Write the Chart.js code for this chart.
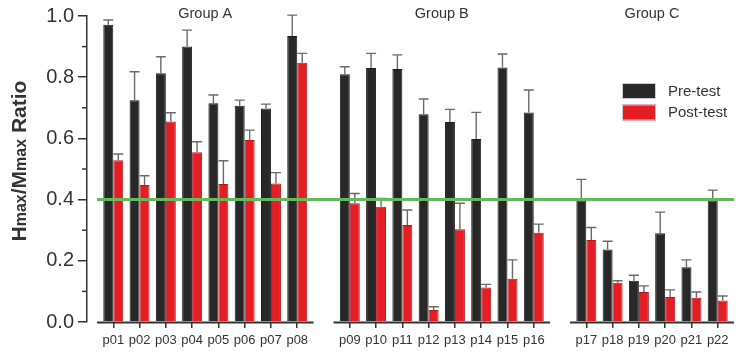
<!DOCTYPE html>
<html>
<head>
<meta charset="utf-8">
<script src="https://cdn.jsdelivr.net/npm/chart.js@4.4.0/dist/chart.umd.min.js"></script>
<style>
  html, body { margin: 0; padding: 0; background: #fff; }
</style>
</head>
<body>
<canvas id="chart" width="749" height="356"></canvas>
<script>
const participants = ['p01','p02','p03','p04','p05','p06','p07','p08',
                      'p09','p10','p11','p12','p13','p14','p15','p16',
                      'p17','p18','p19','p20','p21','p22'];
const groupNames = ['Group A', 'Group B', 'Group C'];
const groupSizes = [8, 8, 6];
const preTest  = [0.971,0.725,0.813,0.900,0.715,0.707,0.698,0.935,
                  0.810,0.830,0.827,0.679,0.654,0.598,0.832,0.685,
                  0.397,0.237,0.135,0.290,0.179,0.397];
const preErr   = [0.016,0.093,0.054,0.054,0.027,0.018,0.014,0.068,
                  0.024,0.048,0.046,0.050,0.041,0.087,0.044,0.073,
                  0.069,0.027,0.018,0.069,0.024,0.034];
const postTest = [0.529,0.448,0.655,0.555,0.451,0.595,0.453,0.847,
                  0.388,0.377,0.317,0.039,0.303,0.113,0.141,0.292,
                  0.268,0.128,0.098,0.082,0.079,0.070];
const postErr  = [0.020,0.030,0.029,0.034,0.076,0.032,0.035,0.031,
                  0.032,0.027,0.049,0.011,0.085,0.010,0.062,0.028,
                  0.041,0.007,0.020,0.023,0.019,0.015];
const cutoff = 0.4;
const yMin = 0, yMax = 1.0, yStep = 0.2;

const FONT = '"Liberation Sans", Arial, Helvetica, sans-serif';
const INK = '#333333';

// slots: empty slot before, between and after the groups
const labels = [''];
const slotIndex = [null];   // slot -> participant index
const groupSlots = [];      // [firstSlot, lastSlot] per group
let p = 0;
groupSizes.forEach(n => {
  const first = labels.length;
  for (let k = 0; k < n; k++) { labels.push(participants[p]); slotIndex.push(p); p++; }
  groupSlots.push([first, labels.length - 1]);
  labels.push(''); slotIndex.push(null);
});

const bySlot = arr => slotIndex.map(i => i === null ? null : arr[i]);

const errorBars = [preErr, postErr];

const decorPlugin = {
  id: 'decor',
  afterDatasetsDraw(chart) {
    const ctx = chart.ctx;
    const x = chart.scales.x, y = chart.scales.y;
    const area = chart.chartArea;
    const step = x.getPixelForValue(1) - x.getPixelForValue(0);
    ctx.save();

    // error bars (upper only)
    chart.data.datasets.forEach((ds, d) => {
      const meta = chart.getDatasetMeta(d);
      meta.data.forEach((bar, s) => {
        const v = ds.data[s];
        if (v === null) return;
        const e = errorBars[d][slotIndex[s]];
        const top = y.getPixelForValue(v + e);
        const half = bar.width / 2;
        ctx.strokeStyle = '#6b6b6b';
        ctx.lineWidth = 1.4;
        ctx.beginPath();
        ctx.moveTo(bar.x, bar.y);
        ctx.lineTo(bar.x, top);
        ctx.moveTo(bar.x - half, top);
        ctx.lineTo(bar.x + half, top);
        ctx.stroke();
      });
    });

    // x axis segments per group
    const segs = groupSlots.map(([a, b]) => [x.getPixelForValue(a) - 0.62 * step, x.getPixelForValue(b) + 0.62 * step]);
    ctx.strokeStyle = INK;
    ctx.lineWidth = 2;
    segs.forEach(([a, b]) => {
      ctx.beginPath();
      ctx.moveTo(a, area.bottom + 0.5);
      ctx.lineTo(b, area.bottom + 0.5);
      ctx.stroke();
    });

    // minor y ticks
    ctx.lineWidth = 1.5;
    for (let v = yMin + yStep / 2; v < yMax; v += yStep) {
      const py = y.getPixelForValue(v);
      ctx.beginPath();
      ctx.moveTo(area.left - 5, py);
      ctx.lineTo(area.left, py);
      ctx.stroke();
    }

    // cutoff line
    const cy = y.getPixelForValue(cutoff);
    ctx.strokeStyle = '#63bb5c';
    ctx.lineWidth = 3;
    ctx.beginPath();
    ctx.moveTo(segs[0][0], cy);
    ctx.lineTo(segs[segs.length - 1][1], cy);
    ctx.stroke();

    // group titles
    ctx.fillStyle = INK;
    ctx.font = '14.5px ' + FONT;
    ctx.textAlign = 'center';
    ctx.textBaseline = 'middle';
    groupSlots.forEach(([a, b], g) => {
      ctx.fillText(groupNames[g], (x.getPixelForValue(a) + x.getPixelForValue(b)) / 2, 14);
    });

    // legend
    const lx = area.right - 122, ly = 83;
    ctx.textAlign = 'left';
    ctx.font = '15px ' + FONT;
    chart.data.datasets.forEach((ds, d) => {
      const by = ly + d * 21.5;
      ctx.fillStyle = ds.backgroundColor;
      ctx.fillRect(lx, by, 34, 16);
      ctx.strokeStyle = '#cfcfcf';
      ctx.lineWidth = 1;
      ctx.strokeRect(lx + 0.5, by + 0.5, 33, 15);
      ctx.fillStyle = INK;
      ctx.fillText(ds.label, lx + 46, by + 8.5);
    });

    // y axis title with smaller "max"
    const parts = [['H', 21], ['max', 16], ['/M', 21], ['max', 16], [' Ratio', 21]];
    let total = 0;
    parts.forEach(([t, s]) => { ctx.font = 'bold ' + s + 'px ' + FONT; total += ctx.measureText(t).width; });
    ctx.translate(26, (area.top + area.bottom) / 2 - 8);
    ctx.rotate(-Math.PI / 2);
    ctx.textBaseline = 'alphabetic';
    let tx = -total / 2;
    parts.forEach(([t, s]) => {
      ctx.font = 'bold ' + s + 'px ' + FONT;
      ctx.fillText(t, tx, 0);
      tx += ctx.measureText(t).width;
    });
    ctx.restore();
  }
};

new Chart(document.getElementById('chart'), {
  type: 'bar',
  data: {
    labels: labels,
    datasets: [
      { label: 'Pre-test', data: bySlot(preTest), backgroundColor: '#282828', borderColor: '#1c1c1c', borderWidth: 1 },
      { label: 'Post-test', data: bySlot(postTest), backgroundColor: '#e31e25', borderColor: '#b8161c', borderWidth: 1 }
    ]
  },
  options: {
    responsive: false,
    animation: false,
    devicePixelRatio: 1,
    categoryPercentage: 0.76,
    barPercentage: 1.0,
    layout: { padding: { top: 16, right: 1, left: 0, bottom: 0 } },
    plugins: { legend: { display: false }, tooltip: { enabled: false } },
    scales: {
      x: {
        type: 'category',
        offset: false,
        grid: {
          offset: false,
          drawOnChartArea: false,
          tickLength: 6,
          lineWidth: 1.5,
          color: c => labels[c.index] ? INK : 'rgba(0,0,0,0)'
        },
        border: { display: false },
        ticks: { autoSkip: false, maxRotation: 0, padding: 5, color: INK, font: { family: FONT, size: 13 } },
        afterFit: s => { s.height = 34; }
      },
      y: {
        min: yMin,
        max: yMax,
        ticks: { stepSize: yStep, padding: 4, color: INK, font: { family: FONT, size: 20 }, callback: v => v.toFixed(1) },
        grid: { drawOnChartArea: false, tickLength: 9, lineWidth: 1.5, color: INK },
        border: { color: INK, width: 1.5 },
        afterFit: s => { s.width = 87; }
      }
    }
  },
  plugins: [decorPlugin]
});
</script>
</body>
</html>
